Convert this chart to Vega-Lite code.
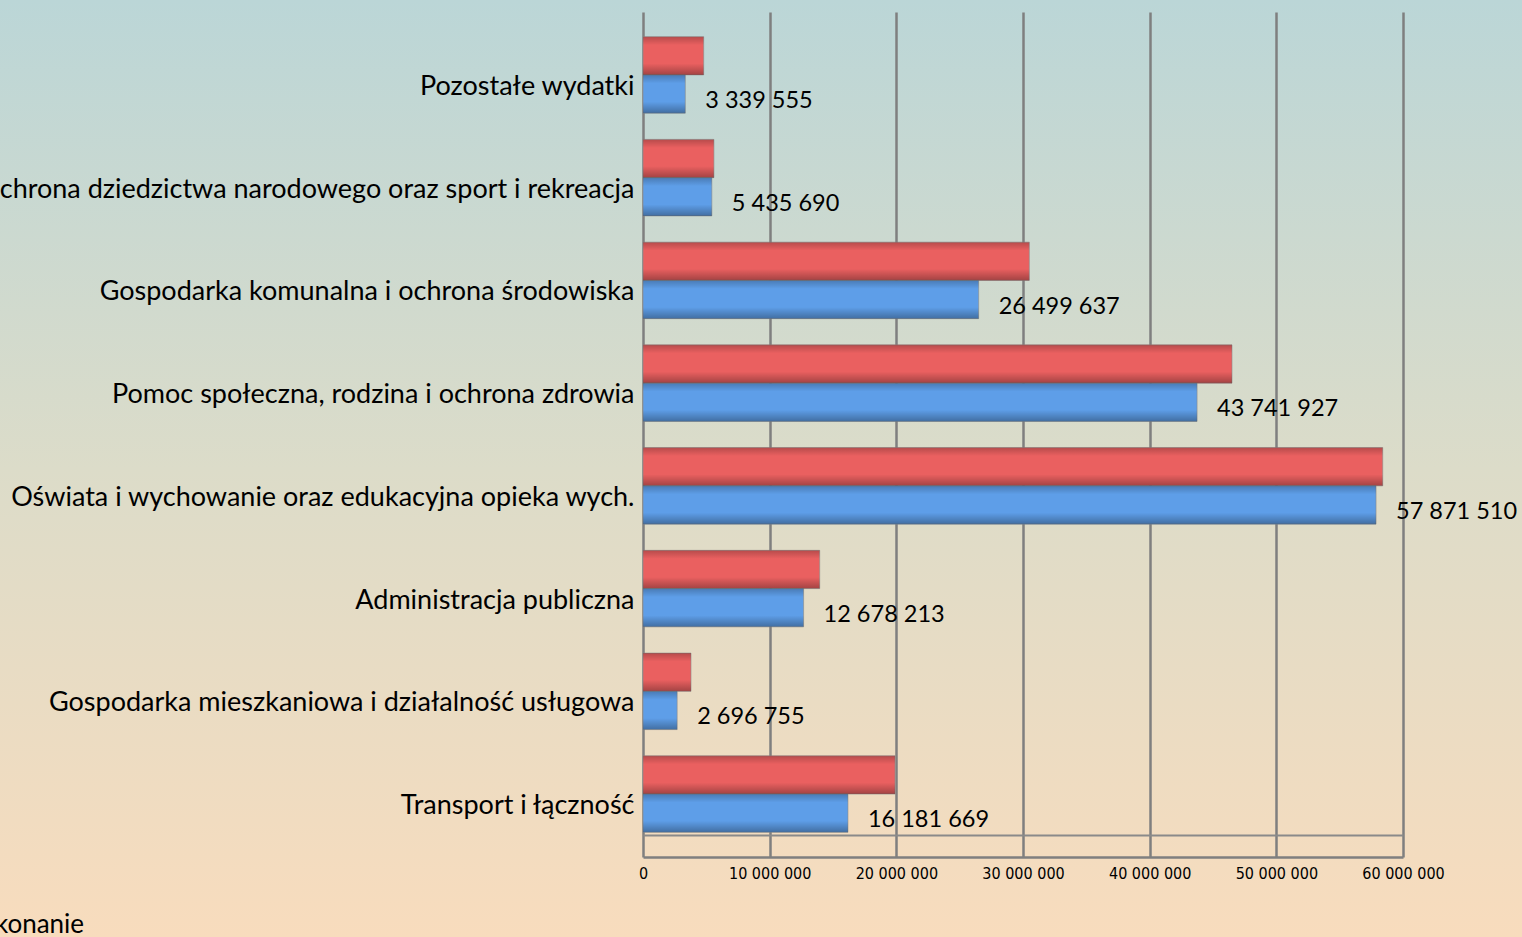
{
  "$schema": "https://vega.github.io/schema/vega-lite/v6.json",
  "autosize": {"type": "none"},
  "padding": 0,
  "width": 1522,
  "height": 937,
  "view": {
    "stroke": null,
    "fill": {"gradient": "linear", "x1": 0, "y1": 0, "x2": 0, "y2": 1,
      "stops": [{"offset": 0, "color": "#BBD6D7"}, {"offset": 0.5, "color": "#DCDCC9"}, {"offset": 1, "color": "#F8DCBD"}]}
  },
  "config": {
    "font": "Lato",
    "locale": {"number": {"decimal": ",", "thousands": " ", "grouping": [3], "currency": ["", " zł"]}}
  },
  "data": {"values": [
    {"kat": "Pozostałe wydatki", "seria": "Plan", "v": 4790000},
    {"kat": "Pozostałe wydatki", "seria": "Wykonanie", "v": 3339555},
    {"kat": "Kultura i ochrona dziedzictwa narodowego oraz sport i rekreacja", "seria": "Plan", "v": 5600000},
    {"kat": "Kultura i ochrona dziedzictwa narodowego oraz sport i rekreacja", "seria": "Wykonanie", "v": 5435690},
    {"kat": "Gospodarka komunalna i ochrona środowiska", "seria": "Plan", "v": 30500000},
    {"kat": "Gospodarka komunalna i ochrona środowiska", "seria": "Wykonanie", "v": 26499637},
    {"kat": "Pomoc społeczna, rodzina i ochrona zdrowia", "seria": "Plan", "v": 46500000},
    {"kat": "Pomoc społeczna, rodzina i ochrona zdrowia", "seria": "Wykonanie", "v": 43741927},
    {"kat": "Oświata i wychowanie oraz edukacyjna opieka wych.", "seria": "Plan", "v": 58400000},
    {"kat": "Oświata i wychowanie oraz edukacyjna opieka wych.", "seria": "Wykonanie", "v": 57871510},
    {"kat": "Administracja publiczna", "seria": "Plan", "v": 13950000},
    {"kat": "Administracja publiczna", "seria": "Wykonanie", "v": 12678213},
    {"kat": "Gospodarka mieszkaniowa i działalność usługowa", "seria": "Plan", "v": 3790000},
    {"kat": "Gospodarka mieszkaniowa i działalność usługowa", "seria": "Wykonanie", "v": 2696755},
    {"kat": "Transport i łączność", "seria": "Plan", "v": 19900000},
    {"kat": "Transport i łączność", "seria": "Wykonanie", "v": 16181669}
  ]},
  "encoding": {
    "y": {"field": "kat", "type": "nominal",
      "scale": {"domain": ["Pozostałe wydatki", "Kultura i ochrona dziedzictwa narodowego oraz sport i rekreacja", "Gospodarka komunalna i ochrona środowiska", "Pomoc społeczna, rodzina i ochrona zdrowia", "Oświata i wychowanie oraz edukacyjna opieka wych.", "Administracja publiczna", "Gospodarka mieszkaniowa i działalność usługowa", "Transport i łączność"],
        "range": [12, 857], "paddingInner": 0.255, "paddingOuter": 0.24},
      "axis": {"orient": "left", "offset": -643, "title": null, "domain": false, "ticks": false,
        "grid": false, "labelPadding": 9, "labelFontSize": 27, "labelColor": "#000000",
        "labelLimit": 3000, "labelOffset": 12, "labelFont": "Lato"}},
    "yOffset": {"field": "seria", "type": "nominal",
      "scale": {"domain": ["Plan", "Wykonanie"], "paddingInner": 0, "paddingOuter": 0}}
  },
  "layer": [
    {
      "mark": {"type": "bar", "stroke": "#8a8a8a", "strokeWidth": 0.6},
      "encoding": {
        "x": {"field": "v", "type": "quantitative",
          "scale": {"domain": [0, 60000000], "range": [643, 1403], "nice": false, "zero": true},
          "axis": {"orient": "top", "title": null,
            "values": [0, 10000000, 20000000, 30000000, 40000000, 50000000, 60000000],
            "grid": true, "gridColor": "#7F7F7F", "gridWidth": 2.5,
            "domain": false, "ticks": false, "labels": false}},
        "color": {"field": "seria", "type": "nominal",
          "scale": {"domain": ["Plan", "Wykonanie"], "range": ["#EA6060", "#5E9EE8"]},
          "legend": {"orient": "none", "legendX": -167, "legendY": 912, "direction": "horizontal",
            "title": null, "labelFontSize": 26, "labelFont": "Lato", "labelColor": "#000000",
            "symbolType": "square", "symbolSize": 200, "symbolStrokeWidth": 0, "columnPadding": 12, "labelLimit": 500}}
      }
    },
    {
      "mark": {"type": "bar",
        "color": {"gradient": "linear", "x1": 0, "y1": 0, "x2": 0, "y2": 1,
          "stops": [{"offset": 0, "color": "rgba(0,0,0,0.22)"}, {"offset": 0.22, "color": "rgba(0,0,0,0)"}, {"offset": 0.7, "color": "rgba(0,0,0,0)"}, {"offset": 1, "color": "rgba(0,0,0,0.3)"}]}},
      "encoding": {
        "x": {"field": "v", "type": "quantitative",
          "axis": {"orient": "bottom", "offset": -80, "title": null,
            "values": [0, 10000000, 20000000, 30000000, 40000000, 50000000, 60000000],
            "format": ",d", "grid": false, "labelFlush": false, "labelOverlap": false,
            "domain": true, "domainColor": "#7F7F7F", "domainWidth": 2.5,
            "ticks": false, "labelPadding": 8,
            "labelFont": "'DejaVu Sans Condensed', 'Liberation Sans Narrow', 'Roboto Condensed', 'Open Sans Condensed', Lato", "labelFontSize": 16, "labelColor": "#000000"}}
      }
    },
    {
      "transform": [{"filter": "datum.seria === 'Wykonanie'"}],
      "mark": {"type": "text", "align": "left", "baseline": "middle", "dx": 20, "dy": 7, "fontSize": 23.5, "font": "Lato", "color": "#000000"},
      "encoding": {
        "x": {"field": "v", "type": "quantitative",
          "axis": {"orient": "top", "offset": -835, "title": null,
            "values": [0, 60000000], "grid": false, "labels": false, "ticks": false,
            "domain": true, "domainColor": "#8A8A8A", "domainWidth": 2}},
        "text": {"field": "v", "type": "quantitative", "format": ",d"}}
    }
  ]
}
